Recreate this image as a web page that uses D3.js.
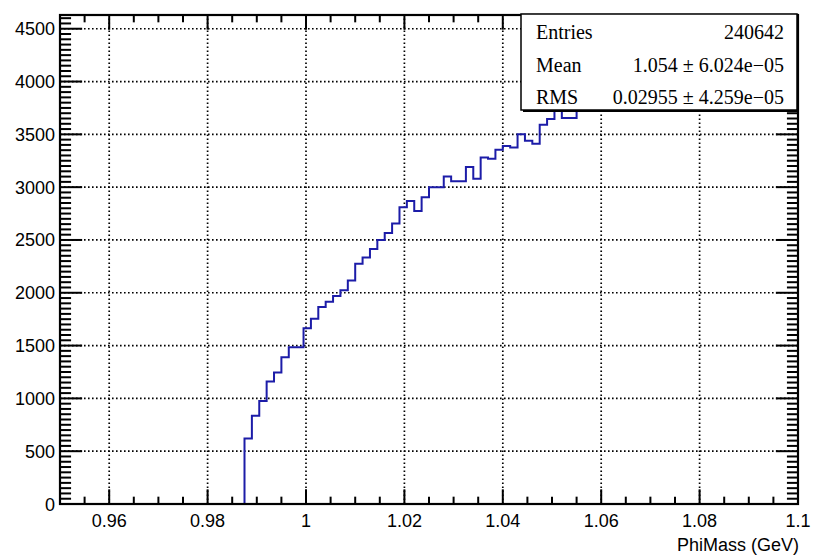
<!DOCTYPE html>
<html>
<head>
<meta charset="utf-8">
<script src="https://cdn.jsdelivr.net/npm/d3@7"></script>
<style>
  html, body { margin: 0; padding: 0; background: #fff; }
  svg { display: block; }
</style>
</head>
<body>
<svg id="chart" width="816" height="557"></svg>
<script>
// ---------------- data ----------------
const xRange = [0.95, 1.1];
const nBins = 100;
// bin contents (PhiMass histogram), bins 0..99 over [0.95, 1.1]
const binContents = [
  0, 0, 0, 0, 0, 0, 0, 0, 0, 0,
  0, 0, 0, 0, 0, 0, 0, 0, 0, 0,
  0, 0, 0, 0, 0, 620, 835, 975, 1160, 1245,
  1390, 1485, 1485, 1665, 1755, 1865, 1915, 1970, 2025, 2115,
  2275, 2335, 2415, 2500, 2565, 2655, 2810, 2870, 2775, 2905,
  3000, 3000, 3100, 3055, 3055, 3190, 3080, 3280, 3270, 3355,
  3390, 3375, 3500, 3440, 3410, 3590, 3645, 3760, 3655, 3655,
  3790, 3850, 3870, 3910, 3940, 4000, 4010, 4070, 4060, 4110,
  4140, 4130, 4190, 4200, 4220, 4230, 4260, 4280, 4270, 4310,
  4320, 4350, 4330, 4360, 4380, 4370, 4400, 4390, 4410, 4395
];
const yMaxDisplay = 4630;
const xTickValues = [0.96, 0.98, 1.0, 1.02, 1.04, 1.06, 1.08, 1.1];
const xTickLabels = ["0.96", "0.98", "1", "1.02", "1.04", "1.06", "1.08", "1.1"];
const yTickValues = [0, 500, 1000, 1500, 2000, 2500, 3000, 3500, 4000, 4500];
const yTickLabels = ["0", "500", "1000", "1500", "2000", "2500", "3000", "3500", "4000", "4500"];
const xTitle = "PhiMass (GeV)";
const statNames = ["Entries", "Mean", "RMS"];
const statValues = ["240642", "1.054 \u00b1 6.024e\u221205", "0.02955 \u00b1 4.259e\u221205"];

// ---------------- layout ----------------
const L = 60, R = 798, T = 15, B = 504;
const svg = d3.select("#chart");
const x = d3.scaleLinear().domain(xRange).range([L, R]);
const y = d3.scaleLinear().domain([0, yMaxDisplay]).range([B, T]);

const binW = (xRange[1] - xRange[0]) / nBins;
const edges = d3.range(nBins + 1).map(i => xRange[0] + i * binW);

// grid
const grid = svg.append("g").attr("stroke", "#000").attr("stroke-width", 1.7)
  .attr("stroke-dasharray", "1.6,2.4");
xTickValues.filter(v => v < xRange[1]).forEach(v => {
  grid.append("line").attr("x1", x(v)).attr("x2", x(v)).attr("y1", B).attr("y2", T);
});
yTickValues.filter(v => v > 0).forEach(v => {
  grid.append("line").attr("x1", L).attr("x2", R).attr("y1", y(v)).attr("y2", y(v));
});

// histogram outline
const pts = binContents.map((c, i) => [edges[i], c]);
pts.push([edges[nBins], binContents[nBins - 1]]);
const line = d3.line().x(d => x(d[0])).y(d => y(d[1])).curve(d3.curveStepAfter);
svg.append("path").attr("d", line(pts)).attr("fill", "none")
  .attr("stroke", "#1c1ca8").attr("stroke-width", 2);

// ticks (all four sides)
const tk = svg.append("g").attr("stroke", "#000").attr("stroke-width", 2);
const xMinor = d3.range(Math.round((xRange[1] - xRange[0]) / 0.005) + 1).map(i => xRange[0] + i * 0.005);
const xMajLen = 0.03 * (B - T), yMajLen = 0.03 * (R - L);
xMinor.forEach(v => {
  const isMaj = xTickValues.some(t => Math.abs(t - v) < 1e-9);
  const len = isMaj ? xMajLen : xMajLen / 2;
  tk.append("line").attr("x1", x(v)).attr("x2", x(v)).attr("y1", B).attr("y2", B - len);
  tk.append("line").attr("x1", x(v)).attr("x2", x(v)).attr("y1", T).attr("y2", T + len);
});
const yMinor = d3.range(Math.floor(yMaxDisplay / 50) + 1).map(i => i * 50);
yMinor.forEach(v => {
  const isMaj = v % 500 === 0;
  const len = isMaj ? yMajLen : yMajLen / 2;
  tk.append("line").attr("x1", L).attr("x2", L + len).attr("y1", y(v)).attr("y2", y(v));
  tk.append("line").attr("x1", R).attr("x2", R - len).attr("y1", y(v)).attr("y2", y(v));
});

// frame
svg.append("rect").attr("x", L).attr("y", T).attr("width", R - L).attr("height", B - T)
  .attr("fill", "none").attr("stroke", "#000").attr("stroke-width", 2.2);

// tick labels
const labFont = "'Liberation Sans', Arial, sans-serif";
svg.append("g").selectAll("text").data(xTickValues).join("text")
  .attr("x", d => x(d)).attr("y", 527).attr("text-anchor", "middle")
  .attr("font-family", labFont).attr("font-size", 18).attr("fill", "#000")
  .text((d, i) => xTickLabels[i]);
svg.append("g").selectAll("text").data(yTickValues).join("text")
  .attr("x", 55).attr("y", d => y(d) + 6.5).attr("text-anchor", "end")
  .attr("font-family", labFont).attr("font-size", 18).attr("fill", "#000")
  .text((d, i) => yTickLabels[i]);
svg.append("text").attr("x", 799).attr("y", 551).attr("text-anchor", "end")
  .attr("font-family", labFont).attr("font-size", 18).attr("fill", "#000").text(xTitle);

// stat box
const bx0 = 521, by0 = 14, bx1 = 797, by1 = 110;
svg.append("rect").attr("x", bx0 + 2).attr("y", by0 + 2).attr("width", bx1 - bx0).attr("height", by1 - by0)
  .attr("fill", "#000");
svg.append("rect").attr("x", bx0).attr("y", by0).attr("width", bx1 - bx0).attr("height", by1 - by0)
  .attr("fill", "#fff").attr("stroke", "#000").attr("stroke-width", 1.5);
const statFont = "'Liberation Serif', 'Times New Roman', serif";
const rowY = [39, 72, 104];
statNames.forEach((n, i) => {
  svg.append("text").attr("x", 536).attr("y", rowY[i]).attr("font-family", statFont)
    .attr("font-size", 20).attr("fill", "#000").text(n);
  svg.append("text").attr("x", 784).attr("y", rowY[i]).attr("text-anchor", "end")
    .attr("font-family", statFont).attr("font-size", 20).attr("fill", "#000").text(statValues[i]);
});
</script>
</body>
</html>
